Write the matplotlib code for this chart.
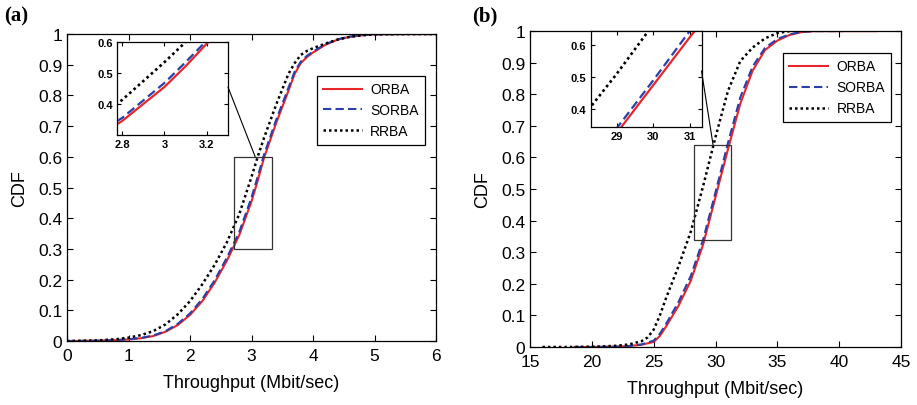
import numpy as np
import matplotlib.pyplot as plt
from matplotlib.patches import Rectangle, ConnectionPatch

plt.rcParams['font.family'] = ['Liberation Sans', 'DejaVu Sans']

# panel (a) : CDF values
a_x = [0, 0.5, 0.8, 1.0, 1.2, 1.4, 1.6, 1.8, 2.0, 2.2, 2.4, 2.6, 2.8, 3.0, 3.1, 3.2, 3.4, 3.6, 3.7, 3.8, 3.9, 4.0, 4.2, 4.4, 4.6, 4.8, 5.0, 5.5, 6]
a_orba = [0, 0.001, 0.003, 0.005, 0.009, 0.016, 0.03, 0.052, 0.085, 0.13, 0.19, 0.262, 0.345, 0.455, 0.522, 0.595, 0.71, 0.815, 0.87, 0.905, 0.925, 0.94, 0.965, 0.982, 0.991, 0.996, 0.999, 1, 1]
a_sorba = [0, 0.001, 0.003, 0.006, 0.010, 0.018, 0.032, 0.056, 0.09, 0.137, 0.198, 0.272, 0.355, 0.468, 0.535, 0.605, 0.72, 0.825, 0.877, 0.91, 0.929, 0.943, 0.967, 0.983, 0.992, 0.997, 0.999, 1, 1]
a_rrba = [0, 0.002, 0.006, 0.011, 0.019, 0.032, 0.054, 0.087, 0.13, 0.185, 0.248, 0.322, 0.413, 0.535, 0.6, 0.66, 0.77, 0.87, 0.905, 0.932, 0.945, 0.954, 0.969, 0.982, 0.991, 0.996, 0.999, 1, 1]

# panel (b)
b_orba_x = [18.6, 20, 21, 22, 23, 24, 25, 25.5, 26, 27, 28, 29, 30, 31, 32, 33, 34, 35, 36, 37, 38, 43]
b_orba_y = [0, 0, 0.0005, 0.001, 0.003, 0.007, 0.016, 0.035, 0.065, 0.13, 0.21, 0.325, 0.475, 0.625, 0.77, 0.875, 0.94, 0.97, 0.988, 0.997, 1, 1]
b_sorba_x = [18.6, 20, 21, 22, 23, 24, 25, 25.5, 26, 27, 28, 29, 30, 31, 32, 33, 34, 35, 36, 37, 38, 40.3]
b_sorba_y = [0, 0, 0.0005, 0.001, 0.003, 0.008, 0.02, 0.042, 0.073, 0.142, 0.225, 0.34, 0.49, 0.645, 0.79, 0.888, 0.947, 0.975, 0.99, 0.998, 1, 1]
b_rrba_x = [16, 18, 20, 21, 22, 23, 24, 24.5, 25, 25.5, 26, 27, 28, 29, 30, 31, 32, 33, 34, 35, 36]
b_rrba_y = [0, 0, 0.001, 0.002, 0.004, 0.008, 0.018, 0.03, 0.055, 0.1, 0.155, 0.255, 0.365, 0.51, 0.665, 0.81, 0.905, 0.948, 0.977, 0.994, 1.0]

labels = ['ORBA', 'SORBA', 'RRBA']
red = '#e8262a'
blue = '#2b3fa8'

fig = plt.figure(figsize=(9.17, 4.06), dpi=100)


def draw(ax, series, lw=1.5):
    (xo, yo), (xs, ys), (xr, yr) = series
    ax.plot(xo, yo, '-', color=red, lw=lw, label=labels[0])
    ax.plot(xs, ys, '--', color=blue, lw=lw, label=labels[1], dashes=(4, 2))
    ax.plot(xr, yr, color='k', lw=lw + 0.3, label=labels[2], linestyle=(0, (1, 1.2)))


def style(ax, size, pad=3):
    ax.tick_params(direction='in', top=True, right=True, labelsize=size, length=4, width=0.8, pad=pad)
    for s in ax.spines.values():
        s.set_linewidth(0.9)


panels = [
    dict(rect=[0.0731, 0.1576, 0.4024, 0.756], xlim=(0, 6), xt=np.arange(0, 7, 1),
         series=[(a_x, a_orba), (a_x, a_sorba), (a_x, a_rrba)],
         inset=[0.1276, 0.665, 0.121, 0.229], ixlim=(2.776, 3.3), iylim=(0.3, 0.6),
         ixt=[2.8, 3, 3.2], iyt=[0.4, 0.5, 0.6], ixtl=['2.8', '3', '3.2'],
         box=(2.715, 0.3, 0.615, 0.3), conn=((1, 0.516), (3.06, 0.6)),
         leg=(0.677, 0.863), tag='(a)', tagx=0.005),
    dict(rect=[0.578, 0.1429, 0.4046, 0.778], xlim=(15, 45), xt=np.arange(15, 46, 5),
         series=[(b_orba_x, b_orba_y), (b_sorba_x, b_sorba_y), (b_rrba_x, b_rrba_y)],
         inset=[0.644, 0.685, 0.121, 0.2365], ixlim=(28.29, 31.32), iylim=(0.345, 0.645),
         ixt=[29, 30, 31], iyt=[0.4, 0.5, 0.6], ixtl=['29', '30', '31'],
         box=(28.25, 0.34, 3.0, 0.3), conn=((1, 0.583), (29.8, 0.64)),
         leg=(0.682, 0.93), tag='(b)', tagx=0.515),
]

for p in panels:
    ax = fig.add_axes(p['rect'])
    draw(ax, p['series'])
    ax.set_xlim(*p['xlim'])
    ax.set_ylim(0, 1)
    ax.set_xticks(p['xt'])
    ax.set_yticks(np.arange(0, 1.01, 0.1))
    ax.set_yticklabels(['0'] + ['%.1f' % v for v in np.arange(0.1, 0.95, 0.1)] + ['1'])
    style(ax, 12.5, pad=3.5)
    ax.tick_params(axis='x', pad=5)
    ax.set_xlabel('Throughput (Mbit/sec)', fontsize=13, labelpad=8)
    ax.set_ylabel('CDF', fontsize=13, labelpad=7)
    leg = ax.legend(loc='upper left', bbox_to_anchor=p['leg'], fontsize=10, fancybox=False,
                    edgecolor='k', framealpha=1, handlelength=2.8, borderpad=0.45,
                    labelspacing=0.5, handletextpad=0.6, borderaxespad=0)
    leg.get_frame().set_linewidth(0.9)

    bx, by, bw, bh = p['box']
    ax.add_patch(Rectangle((bx, by), bw, bh, fill=False, edgecolor='#333333', lw=0.9, zorder=5))

    ins = fig.add_axes(p['inset'])
    draw(ins, p['series'], lw=1.6)
    ins.set_xlim(*p['ixlim'])
    ins.set_ylim(*p['iylim'])
    ins.set_xticks(p['ixt'])
    ins.set_xticklabels(p['ixtl'], fontweight='bold')
    ins.set_yticks(p['iyt'])
    ins.set_yticklabels(['%.1f' % v for v in p['iyt']], fontweight='bold')
    style(ins, 8)
    ins.tick_params(length=3, pad=3)

    cp = ConnectionPatch(xyA=p['conn'][0], coordsA=ins.transAxes,
                         xyB=p['conn'][1], coordsB=ax.transData, color='k', lw=0.8)
    fig.add_artist(cp)

    fig.text(p['tagx'], 0.985, p['tag'], fontsize=15, fontweight='bold',
             family='Liberation Serif', va='top', ha='left')

fig.savefig('out.png', dpi=100)
